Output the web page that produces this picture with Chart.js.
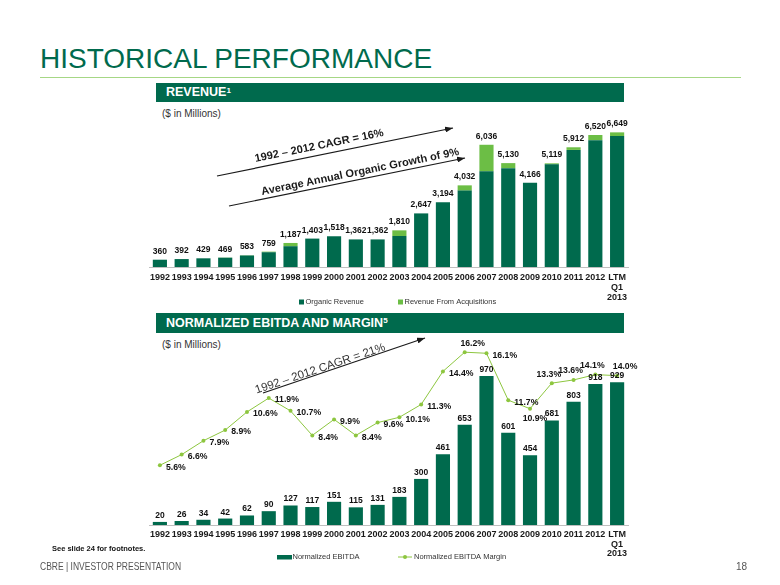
<!DOCTYPE html>
<html><head><meta charset="utf-8">
<script src="https://cdn.jsdelivr.net/npm/chart.js@4.4.0/dist/chart.umd.min.js"></script>
<style>
html,body{margin:0;padding:0;background:#fff;}
body{width:780px;height:585px;position:relative;overflow:hidden;font-family:"Liberation Sans",Arial,sans-serif;}
.abs{position:absolute;white-space:nowrap;}
#title{left:40px;top:45px;font-size:28px;line-height:28px;color:#006A4D;}
#rule{left:40px;top:77px;width:701px;height:1px;background:#A6D785;}
.banner{left:156px;width:468px;background:#006A4D;color:#fff;font-weight:bold;font-size:12.5px;}
.banner span{position:absolute;left:10px;}
.banner sup{font-size:8px;vertical-align:top;position:relative;top:-2px;}
.unit{left:162px;font-size:10px;line-height:12px;color:#333;}
#foot1{left:52px;top:544px;font-size:7.5px;line-height:10px;font-weight:bold;color:#111;}
#foot2{left:40px;top:561px;font-size:10px;line-height:12px;color:#555;transform:scaleX(0.85);transform-origin:left;}
#page{left:736px;top:561px;font-size:10px;line-height:12px;color:#555;}
svg{pointer-events:none;}
</style></head>
<body>
<div id="title" class="abs">HISTORICAL PERFORMANCE</div>
<div id="rule" class="abs"></div>
<div class="abs banner" style="top:83px;height:19px;line-height:19px;"><span>REVENUE<sup>1</sup></span></div>
<div class="abs unit" style="top:108px;">($ in Millions)</div>
<div class="abs banner" style="top:313px;height:20px;line-height:20px;"><span>NORMALIZED EBITDA AND MARGIN<sup>5</sup></span></div>
<div class="abs unit" style="top:339px;">($ in Millions)</div>
<div class="abs" style="left:140px;top:95px;width:500px;height:225px;"><canvas id="rev" width="500" height="225"></canvas></div>
<div class="abs" style="left:140px;top:325px;width:500px;height:245px;"><canvas id="ebitda" width="500" height="245"></canvas></div>
<svg class="abs" style="left:0;top:0;" width="780" height="585">
  <defs>
    <marker id="ah" markerWidth="8" markerHeight="6" refX="8" refY="3" orient="auto" markerUnits="userSpaceOnUse">
      <path d="M0,0 L8,3 L0,6 z" fill="#1a1a1a"/>
    </marker>
  </defs>
  <line x1="217" y1="176" x2="453" y2="128" stroke="#1a1a1a" stroke-width="1.2" marker-end="url(#ah)"/>
  <text transform="translate(319,145) rotate(-11.5)" text-anchor="middle" dominant-baseline="central" font-family="Liberation Sans, Arial, sans-serif" font-weight="bold" font-size="11" fill="#1a1a1a">1992 – 2012 CAGR = 16%</text>
  <line x1="229" y1="206" x2="465" y2="158" stroke="#1a1a1a" stroke-width="1.2" marker-end="url(#ah)"/>
  <text transform="translate(360,171) rotate(-11.5)" text-anchor="middle" dominant-baseline="central" font-family="Liberation Sans, Arial, sans-serif" font-weight="bold" font-size="11" fill="#1a1a1a">Average Annual Organic Growth of 9%</text>
  <line x1="263" y1="393" x2="425" y2="338" stroke="#1a1a1a" stroke-width="1.2" marker-end="url(#ah)"/>
  <text transform="translate(320,368) rotate(-18.6)" text-anchor="middle" dominant-baseline="central" font-family="Liberation Sans, Arial, sans-serif" font-size="11.5" fill="#333">1992 – 2012 CAGR = 21%</text>
</svg>
<div id="foot1" class="abs">See slide 24 for footnotes.</div>
<div id="foot2" class="abs">CBRE | INVESTOR PRESENTATION</div>
<div id="page" class="abs">18</div>
<script>
// ---- data ----
const years = ['1992','1993','1994','1995','1996','1997','1998','1999','2000','2001','2002','2003','2004','2005','2006','2007','2008','2009','2010','2011','2012',['LTM','Q1','2013']];
const revenueTotal    = [360, 392, 429, 469, 583, 759, 1187, 1403, 1518, 1362, 1362, 1810, 2647, 3194, 4032, 6036, 5130, 4166, 5119, 5912, 6520, 6649];
const revenueOrganic  = [360, 392, 429, 459, 568, 729, 1027, 1403, 1518, 1362, 1362, 1530, 2647, 3194, 3772, 4726, 4880, 4166, 5069, 5782, 6260, 6469];
const revenueAcquired = [0, 0, 0, 10, 15, 30, 160, 0, 0, 0, 0, 280, 0, 0, 260, 1310, 250, 0, 50, 130, 260, 180];
const ebitda       = [20, 26, 34, 42, 62, 90, 127, 117, 151, 115, 131, 183, 300, 461, 653, 970, 601, 454, 681, 803, 918, 929];
const ebitdaMargin = [5.6, 6.6, 7.9, 8.9, 10.6, 11.9, 10.7, 8.4, 9.9, 8.4, 9.6, 10.1, 11.3, 14.4, 16.2, 16.1, 11.7, 10.9, 13.3, 13.6, 14.1, 14.0];
const marginLabelSide = ['r','r','r','r','r','r','r','r','r','r','r','r','r','r','ar','r','r','b','a','a','a','ar'];

const DARK = '#006A4D', LIGHT = '#6CBE45', LINE = '#8DC63F';
const fmtNum = v => v.toLocaleString('en-US');

const barLabels = {
  id: 'barLabels',
  afterDatasetsDraw(chart, args, opts) {
    const meta = chart.getDatasetMeta(opts.datasetIndex);
    const ctx = chart.ctx;
    ctx.save();
    ctx.font = opts.font; ctx.fillStyle = opts.color;
    ctx.textAlign = 'center'; ctx.textBaseline = 'alphabetic';
    meta.data.forEach((el, i) => ctx.fillText(opts.labels[i], el.x, el.y - opts.offset));
    ctx.restore();
  }
};

const pointLabels = {
  id: 'pointLabels',
  afterDatasetsDraw(chart, args, opts) {
    if (opts.datasetIndex === undefined) return;
    const meta = chart.getDatasetMeta(opts.datasetIndex);
    const ctx = chart.ctx;
    ctx.save();
    ctx.font = opts.font; ctx.fillStyle = opts.color; ctx.textBaseline = 'middle';
    meta.data.forEach((el, i) => {
      const side = opts.sides[i];
      let x = el.x, y = el.y;
      if (side === 'r') { ctx.textAlign = 'left'; x += 6; y += 2; }
      else if (side === 'a') { ctx.textAlign = 'center'; x -= 3; y -= 9; }
      else if (side === 'ar') { ctx.textAlign = 'center'; x += 8; y -= 9; }
      else if (side === 'b') { ctx.textAlign = 'center'; x += 5; y += 10; }
      ctx.fillText(opts.labels[i], x, y);
    });
    ctx.restore();
  }
};

const posLegend = {
  id: 'posLegend',
  afterDraw(chart, args, opts) {
    const ctx = chart.ctx;
    ctx.save();
    ctx.font = opts.font; ctx.textBaseline = 'middle'; ctx.textAlign = 'left';
    chart.data.datasets.forEach((ds, i) => {
      const it = opts.items[i];
      const y = opts.y;
      let tx;
      const col = ds.type === 'line' ? ds.borderColor : ds.backgroundColor;
      ctx.fillStyle = col; ctx.strokeStyle = col;
      if (it.kind === 'box') { ctx.fillRect(it.x, y - 2.5, 5, 5); tx = it.x + 6.5; }
      else if (it.kind === 'rect') { ctx.fillRect(it.x, y - 2, 15, 4.5); tx = it.x + 15.5; }
      else {
        ctx.lineWidth = 1; ctx.beginPath(); ctx.moveTo(it.x, y); ctx.lineTo(it.x + 14, y); ctx.stroke();
        ctx.beginPath(); ctx.arc(it.x + 7, y, 2, 0, Math.PI * 2); ctx.fill();
        tx = it.x + 16;
      }
      ctx.fillStyle = opts.color;
      ctx.fillText(ds.label, tx, y);
    });
    ctx.restore();
  }
};

const tickFamily = '"Liberation Sans", Arial, sans-serif';

new Chart(document.getElementById('rev'), {
  type: 'bar',
  data: {
    labels: years,
    datasets: [
      {label: 'Organic Revenue', data: revenueOrganic, backgroundColor: DARK, stack: 's', barPercentage: 0.65, categoryPercentage: 1},
      {label: 'Revenue From Acquisitions', data: revenueAcquired, backgroundColor: LIGHT, stack: 's', barPercentage: 0.65, categoryPercentage: 1}
    ]
  },
  options: {
    responsive: false, animation: false,
    layout: {padding: {left: 9, right: 12, top: 10, bottom: 0}},
    plugins: {
      legend: {display: false}, tooltip: {enabled: false},
      barLabels: {datasetIndex: 1, labels: revenueTotal.map(fmtNum), font: 'bold 8.5px "Liberation Sans", Arial, sans-serif', color: '#111', offset: 6},
      posLegend: {y: 207, font: '7.5px "Liberation Sans", Arial, sans-serif', color: '#333', items: [{x: 159, kind: 'box'}, {x: 258, kind: 'box'}]}
    },
    scales: {
      x: {stacked: true, grid: {display: false, drawTicks: false}, border: {display: true, color: '#BFBFBF'},
          ticks: {padding: 6, color: '#1a1a1a', font: {family: tickFamily, size: 9, weight: 'bold', lineHeight: 1.1}, maxRotation: 0, autoSkip: false},
          afterFit(s) { s.height = 53; }},
      y: {stacked: true, display: false, min: 0, max: 8000}
    }
  },
  plugins: [barLabels, posLegend]
});

new Chart(document.getElementById('ebitda'), {
  type: 'bar',
  data: {
    labels: years,
    datasets: [
      {type: 'bar', label: 'Normalized EBITDA', data: ebitda, backgroundColor: DARK, yAxisID: 'y', barPercentage: 0.65, categoryPercentage: 1, order: 2},
      {type: 'line', label: 'Normalized EBITDA Margin', data: ebitdaMargin, yAxisID: 'y1', borderColor: LINE, backgroundColor: LINE, borderWidth: 1, pointRadius: 2, pointBorderWidth: 0, tension: 0, order: 1}
    ]
  },
  options: {
    responsive: false, animation: false,
    layout: {padding: {left: 9, right: 12, top: 8, bottom: 0}},
    plugins: {
      legend: {display: false}, tooltip: {enabled: false},
      barLabels: {datasetIndex: 0, labels: ebitda.map(fmtNum), font: 'bold 8.5px "Liberation Sans", Arial, sans-serif', color: '#111', offset: 4},
      pointLabels: {datasetIndex: 1, labels: ebitdaMargin.map(v => v.toFixed(1) + '%'), sides: marginLabelSide, font: 'bold 8.7px "Liberation Sans", Arial, sans-serif', color: '#111'},
      posLegend: {y: 232, font: '7.5px "Liberation Sans", Arial, sans-serif', color: '#333', items: [{x: 137, kind: 'rect'}, {x: 258, kind: 'line'}]}
    },
    scales: {
      x: {grid: {display: false, drawTicks: false}, border: {display: true, color: '#BFBFBF'},
          ticks: {padding: 5, color: '#1a1a1a', font: {family: tickFamily, size: 9, weight: 'bold', lineHeight: 1.05}, maxRotation: 0, autoSkip: false},
          afterFit(s) { s.height = 45; }},
      y: {display: false, min: 0, max: 1250},
      y1: {display: false, min: 0, max: 18, position: 'right'}
    }
  },
  plugins: [barLabels, pointLabels, posLegend]
});
</script>
</body></html>
